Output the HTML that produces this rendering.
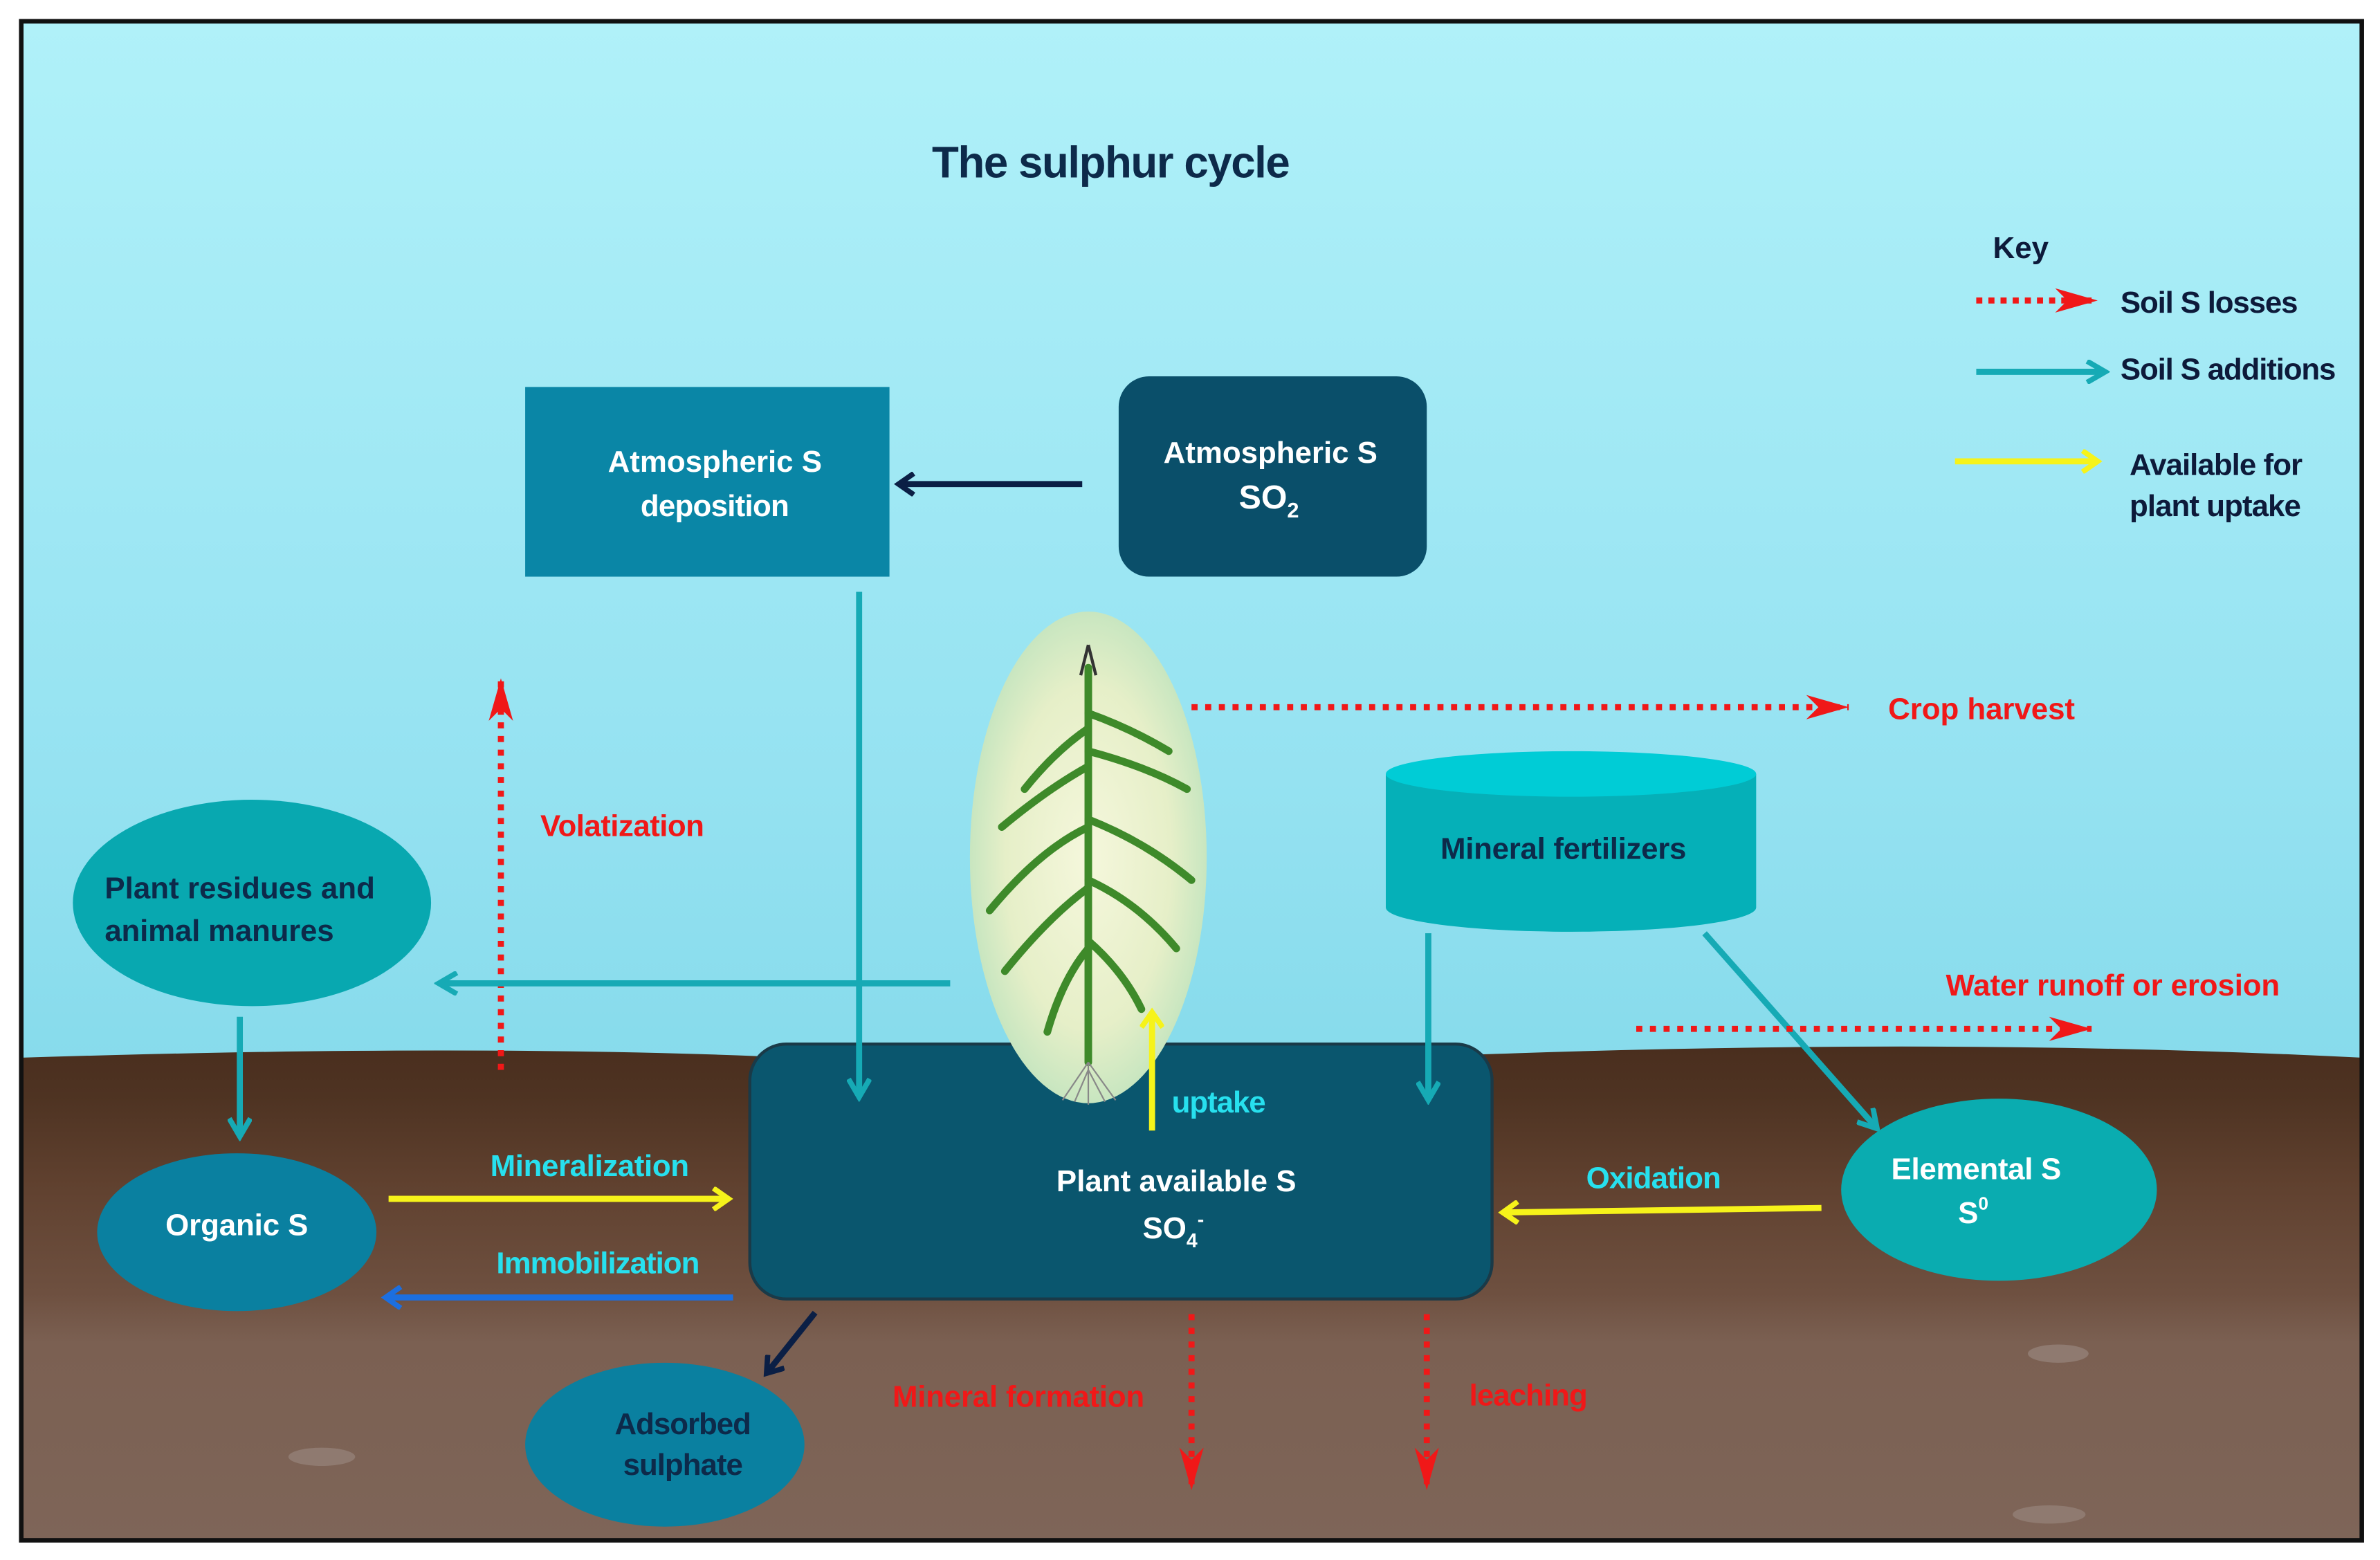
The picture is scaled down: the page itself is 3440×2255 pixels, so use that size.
<!DOCTYPE html>
<html><head><meta charset="utf-8"><style>
html,body{margin:0;padding:0;background:#fff;}
svg{display:block;}
text{font-family:"Liberation Sans",sans-serif;font-weight:bold;}
</style></head><body>
<svg width="3440" height="2255" viewBox="0 0 1568 1028" preserveAspectRatio="none" xmlns="http://www.w3.org/2000/svg">
<defs>
<linearGradient id="sky" x1="0" y1="0" x2="0" y2="1">
<stop offset="0" stop-color="#b0f1f9"/><stop offset="0.5" stop-color="#95e2f1"/><stop offset="1" stop-color="#6fcfe2"/>
</linearGradient>
<linearGradient id="soil" x1="0" y1="0" x2="0" y2="1">
<stop offset="0" stop-color="#4a2e1e"/><stop offset="0.1" stop-color="#4e3322"/><stop offset="0.28" stop-color="#60412f"/><stop offset="0.5" stop-color="#6e5040"/><stop offset="0.6" stop-color="#7b6052"/><stop offset="1" stop-color="#7e6558"/>
</linearGradient>
<radialGradient id="plant" cx="0.5" cy="0.5" r="0.5">
<stop offset="0" stop-color="#f5f7dc"/><stop offset="0.7" stop-color="#e6efc8"/><stop offset="1" stop-color="#c8e6c0"/>
</radialGradient>
<marker id="aTeal" markerWidth="16" markerHeight="16" refX="12" refY="8" orient="auto" markerUnits="userSpaceOnUse"><path d="M1,1 L13,8 L1,15" fill="none" stroke="#16aab5" stroke-width="3.5"/></marker>
<marker id="aNavy" markerWidth="14" markerHeight="16" refX="11" refY="8" orient="auto" markerUnits="userSpaceOnUse"><path d="M1,1 L11,8 L1,15" fill="none" stroke="#0b1f45" stroke-width="3.5"/></marker>
<marker id="aYel" markerWidth="14" markerHeight="16" refX="11" refY="8" orient="auto" markerUnits="userSpaceOnUse"><path d="M1,1 L11,8 L1,15" fill="none" stroke="#f6f31a" stroke-width="3.5"/></marker>
<marker id="aBlue" markerWidth="14" markerHeight="16" refX="11" refY="8" orient="auto" markerUnits="userSpaceOnUse"><path d="M1,1 L11,8 L1,15" fill="none" stroke="#1c6fe0" stroke-width="3.5"/></marker>
<marker id="aRed" markerWidth="30" markerHeight="18" refX="28" refY="9" orient="auto" markerUnits="userSpaceOnUse"><path d="M0,1 L28,9 L0,17 L8,9 Z" fill="#f01818"/></marker>
</defs>
<rect x="0" y="0" width="1568" height="1028" fill="#fff"/>
<rect x="14" y="14" width="1542" height="1001" fill="url(#sky)"/>
<path d="M14,697 Q300,688 500,696 T1000,694 T1556,697 L1556,1015 L14,1015 Z" fill="url(#soil)"/>
<rect x="14" y="14" width="1542" height="1001" fill="none" stroke="#111" stroke-width="3"/>
<ellipse cx="212" cy="960" rx="22" ry="6" fill="#8f7a70"/>
<ellipse cx="1350" cy="998" rx="24" ry="6" fill="#8f7a70"/>
<ellipse cx="1356" cy="892" rx="20" ry="6" fill="#8f7a70"/>

<text x="732" y="117" font-size="29" fill="#0d2a4a" text-anchor="middle" textLength="236">The sulphur cycle</text>

<!-- key -->
<text x="1313" y="170" font-size="20" fill="#0d1a3a">Key</text>
<line x1="1302" y1="198" x2="1382" y2="198" stroke="#f01818" stroke-width="4" stroke-dasharray="4,4" marker-end="url(#aRed)"/>
<text x="1397" y="206" font-size="20" fill="#0d1a3a" textLength="117">Soil  S losses</text>
<line x1="1302" y1="245" x2="1386" y2="245" stroke="#16aab5" stroke-width="4" marker-end="url(#aTeal)"/>
<text x="1397" y="250" font-size="20" fill="#0d1a3a" textLength="142">Soil  S additions</text>
<line x1="1288" y1="304" x2="1382" y2="304" stroke="#f6f31a" stroke-width="4" marker-end="url(#aYel)"/>
<text x="1403" y="313" font-size="20" fill="#0d1a3a" textLength="114">Available for</text>
<text x="1403" y="340" font-size="20" fill="#0d1a3a" textLength="113">plant uptake</text>

<!-- atmospheric boxes -->
<rect x="346" y="255" width="240" height="125" fill="#0a86a6"/>
<text x="471" y="311" font-size="20" fill="#fff" text-anchor="middle" textLength="141">Atmospheric  S</text>
<text x="471" y="340" font-size="20" fill="#fff" text-anchor="middle" textLength="98">deposition</text>
<rect x="737" y="248" width="203" height="132" rx="20" fill="#0a4f6a"/>
<text x="837" y="305" font-size="20" fill="#fff" text-anchor="middle" textLength="141">Atmospheric  S</text>
<text x="836" y="335" font-size="22" fill="#fff" text-anchor="middle">SO<tspan font-size="14" dy="6">2</tspan></text>
<line x1="713" y1="319" x2="592" y2="319" stroke="#0b1f45" stroke-width="4" marker-end="url(#aNavy)"/>

<line x1="785" y1="466" x2="1218" y2="466" stroke="#f01818" stroke-width="4" stroke-dasharray="4,5" marker-end="url(#aRed)"/>
<text x="1244" y="474" font-size="20" fill="#f01818" textLength="123">Crop harvest</text>

<!-- fertilizer cylinder -->
<path d="M913,510 L913,598 A122,16 0 0 0 1157,598 L1157,510 Z" fill="#05b0b8"/>
<ellipse cx="1035" cy="510" rx="122" ry="15" fill="#00ccd6"/>
<text x="1030" y="566" font-size="20" fill="#0d2a4a" text-anchor="middle" textLength="162">Mineral fertilizers</text>

<!-- volatization -->
<line x1="330" y1="705" x2="330" y2="447" stroke="#f01818" stroke-width="4" stroke-dasharray="4,5" marker-end="url(#aRed)"/>
<text x="356" y="551" font-size="20" fill="#f01818" textLength="108">Volatization</text>

<!-- residues -->
<ellipse cx="166" cy="595" rx="118" ry="68" fill="#08a8b0"/>
<text x="69" y="592" font-size="20" fill="#0d2a4a" textLength="178">Plant residues  and</text>
<text x="69" y="620" font-size="20" fill="#0d2a4a" textLength="151">animal  manures</text>
<line x1="626" y1="648" x2="290" y2="648" stroke="#16aab5" stroke-width="4" marker-end="url(#aTeal)"/>
<line x1="158" y1="670" x2="158" y2="748" stroke="#16aab5" stroke-width="4" marker-end="url(#aTeal)"/>

<!-- plant available -->
<rect x="494" y="688" width="489" height="168" rx="24" fill="#0a566e" stroke="#1a3a48" stroke-width="2"/>

<!-- plant (on top of box) -->
<ellipse cx="717" cy="565" rx="78" ry="162" fill="url(#plant)"/>
<g stroke="#3e8a2a" stroke-width="5" fill="none" stroke-linecap="round">
<path d="M717,440 L717,700"/>
<path d="M717,480 Q695,495 675,520"/><path d="M717,470 Q745,480 770,495"/>
<path d="M717,505 Q690,520 660,545"/><path d="M717,495 Q755,505 782,520"/>
<path d="M717,545 Q685,560 652,600"/><path d="M717,540 Q755,555 785,580"/>
<path d="M717,585 Q690,605 662,640"/><path d="M717,580 Q750,595 775,625"/>
<path d="M717,625 Q700,645 690,680"/><path d="M717,620 Q740,640 752,665"/>
</g>
<path d="M717,425 L712,445 M717,425 L722,445" stroke="#333" stroke-width="2"/>
<g stroke="#888" stroke-width="1" fill="none"><path d="M717,700 L700,725 M717,700 L735,725 M717,700 L717,728 M717,705 L708,726 M717,705 L728,726"/></g>

<line x1="566" y1="390" x2="566" y2="722" stroke="#16aab5" stroke-width="4" marker-end="url(#aTeal)"/>
<line x1="941" y1="615" x2="941" y2="724" stroke="#16aab5" stroke-width="4" marker-end="url(#aTeal)"/>
<line x1="759" y1="745" x2="759" y2="667" stroke="#f6f31a" stroke-width="4" marker-end="url(#aYel)"/>
<text x="772" y="733" font-size="20" fill="#27e0ee" textLength="62">uptake</text>
<text x="775" y="785" font-size="20" fill="#fff" text-anchor="middle" textLength="158">Plant available  S</text>
<text x="773" y="816" font-size="20" fill="#fff" text-anchor="middle">SO<tspan font-size="13" dy="6">4</tspan><tspan font-size="13" dy="-14">-</tspan></text>

<!-- elemental -->
<line x1="1123" y1="615" x2="1236" y2="743" stroke="#16aab5" stroke-width="4" marker-end="url(#aTeal)"/>
<line x1="1078" y1="678" x2="1378" y2="678" stroke="#f01818" stroke-width="4" stroke-dasharray="4,5" marker-end="url(#aRed)"/>
<text x="1282" y="656" font-size="20" fill="#f01818" textLength="220">Water runoff or erosion</text>
<ellipse cx="1317" cy="784" rx="104" ry="60" fill="#0aacb0"/>
<text x="1302" y="777" font-size="20" fill="#fff" text-anchor="middle" textLength="112">Elemental  S</text>
<text x="1300" y="806" font-size="20" fill="#fff" text-anchor="middle">S<tspan font-size="12" dy="-9">0</tspan></text>
<line x1="1200" y1="796" x2="990" y2="799" stroke="#f6f31a" stroke-width="4" marker-end="url(#aYel)"/>
<text x="1045" y="783" font-size="20" fill="#27e0ee" textLength="89">Oxidation</text>

<!-- organic -->
<ellipse cx="156" cy="812" rx="92" ry="52" fill="#0a80a0"/>
<text x="156" y="814" font-size="20" fill="#fff" text-anchor="middle" textLength="94">Organic  S</text>
<line x1="256" y1="790" x2="480" y2="790" stroke="#f6f31a" stroke-width="4" marker-end="url(#aYel)"/>
<text x="323" y="775" font-size="20" fill="#27e0ee" textLength="131">Mineralization</text>
<line x1="483" y1="855" x2="254" y2="855" stroke="#1c6fe0" stroke-width="4" marker-end="url(#aBlue)"/>
<text x="327" y="839" font-size="20" fill="#27e0ee" textLength="134">Immobilization</text>

<!-- adsorbed -->
<line x1="537" y1="865" x2="505" y2="905" stroke="#0b1f45" stroke-width="4" marker-end="url(#aNavy)"/>
<ellipse cx="438" cy="952" rx="92" ry="54" fill="#0a80a0"/>
<text x="450" y="945" font-size="20" fill="#0d2a4a" text-anchor="middle" textLength="90">Adsorbed</text>
<text x="450" y="972" font-size="20" fill="#0d2a4a" text-anchor="middle" textLength="79">sulphate</text>

<line x1="785" y1="866" x2="785" y2="982" stroke="#f01818" stroke-width="4" stroke-dasharray="4,5" marker-end="url(#aRed)"/>
<line x1="940" y1="866" x2="940" y2="982" stroke="#f01818" stroke-width="4" stroke-dasharray="4,5" marker-end="url(#aRed)"/>
<text x="588" y="927" font-size="20" fill="#f01818" textLength="166">Mineral formation</text>
<text x="968" y="926" font-size="20" fill="#f01818" textLength="78">leaching</text>
</svg>
</body></html>
